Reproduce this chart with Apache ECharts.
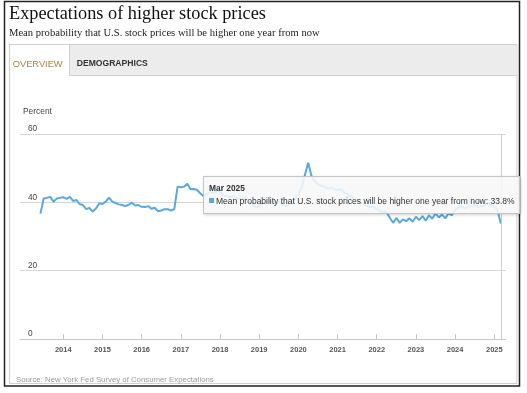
<!DOCTYPE html>
<html><head><meta charset="utf-8">
<script src="https://cdn.jsdelivr.net/npm/echarts@6/dist/echarts.min.js"></script>
<style>html,body{margin:0;padding:0;background:#fff}#c{width:527px;height:393px}</style>
</head><body><div id="c"></div>
<script>
var seriesName = 'Mean probability that U.S. stock prices will be higher one year from now';
var startYear = 2013, startMonth = 5; // June 2013 (0-based month)
var v2013 = [36.7, 41.1, 41.3, 41.6, 40.2, 41.1, 41.3];
var v2014 = [41.5, 41.0, 41.6, 40.4, 40.7, 39.5, 39.2, 38.0, 38.4, 37.3, 38.2, 39.7];
var v2015 = [39.5, 40.2, 41.4, 40.2, 39.8, 39.4, 39.2, 38.9, 39.3, 39.9, 39.1, 39.2];
var v2016 = [38.7, 38.6, 38.9, 38.1, 38.4, 37.4, 37.6, 38.0, 38.0, 37.6, 38.0, 44.6];
var v2017 = [44.4, 44.6, 45.4, 43.8, 43.9, 43.6, 42.6, 41.8, 42.5, 43.0, 42.8, 43.2];
var v2018 = [43.5, 42.0, 41.8, 41.5, 41.8, 41.2, 41.0, 41.3, 41.0, 40.3, 39.5, 38.4];
var v2019 = [38.8, 39.6, 40.0, 40.4, 40.1, 39.7, 40.0, 39.4, 39.0, 39.3, 40.0, 41.0];
var v2020 = [42.5, 44.3, 48.0, 51.6, 47.8, 46.2, 45.2, 44.8, 44.6, 44.0, 44.3, 43.8];
var v2021 = [43.6, 43.8, 43.0, 42.5, 41.8, 41.0, 40.2, 39.8, 39.5, 39.0, 38.6, 38.8];
var v2022 = [38.0, 37.5, 37.0, 37.2, 35.5, 34.0, 35.4, 34.0, 35.0, 34.5, 35.3, 34.3];
var v2023 = [35.8, 34.8, 36.0, 34.6, 36.2, 35.2, 36.8, 35.6, 36.4, 35.3, 36.8, 36.2];
var v2024 = [37.8, 38.4, 38.8, 38.2, 38.7, 38.9, 39.2, 38.6, 38.9, 39.1, 39.6, 39.0];
var v2025 = [38.8, 37.6, 33.8];
var yearTicks = [2014, 2015, 2016, 2017, 2018, 2019, 2020, 2021, 2022, 2023, 2024, 2025];
var monthNames = ['Jan','Feb','Mar','Apr','May','Jun','Jul','Aug','Sep','Oct','Nov','Dec'];

var values = [].concat(v2013, v2014, v2015, v2016, v2017, v2018, v2019, v2020, v2021, v2022, v2023, v2024, v2025);
// x = decimal year (year + month/12)
var data = values.map(function (v, i) {
  return [startYear + (startMonth + i) / 12, v];
});
var lineColor = '#5aa8e0';
var sans = '"Liberation Sans", Arial, sans-serif';
var serif = '"Liberation Serif", "Times New Roman", serif';

var chart = echarts.init(document.getElementById('c'), null, {renderer: 'canvas'});
chart.setOption({
  animation: false,
  grid: {left: 20, right: 21.3, top: 134, bottom: 54, containLabel: false},
  xAxis: {
    type: 'value',
    min: 2012.8954,
    max: 2025.291,
    axisLine: {show: true, onZero: false, lineStyle: {color: '#c8c8c8', width: 1}},
    axisTick: {show: true, inside: true, length: 5, customValues: yearTicks, lineStyle: {color: '#c8c8c8'}},
    axisLabel: {
      customValues: yearTicks, margin: 7, showMinLabel: true, showMaxLabel: true, hideOverlap: false,
      fontFamily: sans, fontSize: 7.5, fontWeight: 'bold', color: '#555',
      formatter: function (val) { return String(Math.round(val)); }
    },
    splitLine: {show: false},
    axisPointer: {type: 'line', lineStyle: {color: '#cccccc', width: 1, type: 'solid'}, label: {show: false}}
  },
  yAxis: {
    type: 'value', min: 0, max: 60, interval: 20,
    axisLine: {show: false}, axisTick: {show: false},
    axisLabel: {inside: true, margin: 8, align: 'left', verticalAlign: 'bottom', padding: [0, 0, 1, 0],
      fontFamily: sans, fontSize: 8.3, color: '#444'},
    splitLine: {lineStyle: {color: '#d6d6d6', width: 1}}
  },
  tooltip: {
    trigger: 'axis', triggerOn: 'none', alwaysShowContent: true,
    position: [203, 176], transitionDuration: 0,
    backgroundColor: 'rgba(247,247,247,0.88)', borderColor: '#c4c4c4', borderWidth: 1, borderRadius: 0,
    padding: [5, 4, 5, 5],
    extraCssText: 'box-shadow: 1px 1px 3px rgba(0,0,0,0.18);',
    axisPointer: {type: 'line', lineStyle: {color: '#cccccc', width: 1, type: 'solid'}},
    formatter: function (params) {
      var p = params[0];
      var idx = startMonth + p.dataIndex;
      var label = monthNames[idx % 12] + ' ' + (startYear + Math.floor(idx / 12));
      var ff = sans.replace(/"/g, "'");
      return '<div style="font-family:' + ff + ';font-weight:bold;font-size:8.4px;line-height:12px;color:#333">' +
        label + '</div>' +
        '<div style="font-family:' + ff + ';font-size:8.5px;line-height:14px;color:#333;white-space:nowrap">' +
        '<span style="display:inline-block;width:5px;height:5px;background:' + lineColor + ';margin-right:2px;vertical-align:1px"></span>' +
        seriesName + ': ' + p.value[1].toFixed(1) + '%</div>';
    }
  },
  series: [{
    name: seriesName, type: 'line', data: data, symbol: 'none', showSymbol: false,
    lineStyle: {color: lineColor, width: 2}, itemStyle: {color: lineColor},
    emphasis: {disabled: true}
  }],
  graphic: [
    {type: 'rect', shape: {x: 4.5, y: 1.5, width: 515, height: 384.5}, style: {fill: 'none', stroke: '#222', lineWidth: 1.5}, z: 10},
    {type: 'rect', shape: {x: 9.5, y: 44.5, width: 507.5, height: 339}, style: {fill: 'none', stroke: '#cfcfcf', lineWidth: 1}},
    {type: 'rect', shape: {x: 10, y: 45, width: 507, height: 30}, style: {fill: '#ececec'}},
    {type: 'rect', shape: {x: 10, y: 45, width: 59, height: 31}, style: {fill: '#ffffff'}},
    {type: 'line', shape: {x1: 69.5, y1: 45, x2: 69.5, y2: 75.5}, style: {stroke: '#cfcfcf', lineWidth: 1}},
    {type: 'line', shape: {x1: 69.5, y1: 75.5, x2: 517, y2: 75.5}, style: {stroke: '#cfcfcf', lineWidth: 1}},
    {type: 'text', style: {x: 9, y: 14, text: 'Expectations of higher stock prices', font: '18.3px ' + serif, fill: '#111', verticalAlign: 'middle'}},
    {type: 'text', style: {x: 9, y: 33, text: 'Mean probability that U.S. stock prices will be higher one year from now', font: '10.6px ' + serif, fill: '#222', verticalAlign: 'middle'}},
    {type: 'text', style: {x: 12.7, y: 64, text: 'OVERVIEW', font: '9.3px ' + sans, fill: '#a3844e', verticalAlign: 'middle'}},
    {type: 'text', style: {x: 76.7, y: 64, text: 'DEMOGRAPHICS', font: 'bold 8.6px ' + sans, fill: '#333', verticalAlign: 'middle'}},
    {type: 'text', style: {x: 23, y: 112, text: 'Percent', font: '8.4px ' + sans, fill: '#444', verticalAlign: 'middle'}},
    {type: 'text', style: {x: 16, y: 379.5, text: 'Source: New York Fed Survey of Consumer Expectations', font: '7.8px ' + sans, fill: '#999', verticalAlign: 'middle'}}
  ]
});
chart.dispatchAction({type: 'showTip', seriesIndex: 0, dataIndex: data.length - 1});
</script>
</body></html>
